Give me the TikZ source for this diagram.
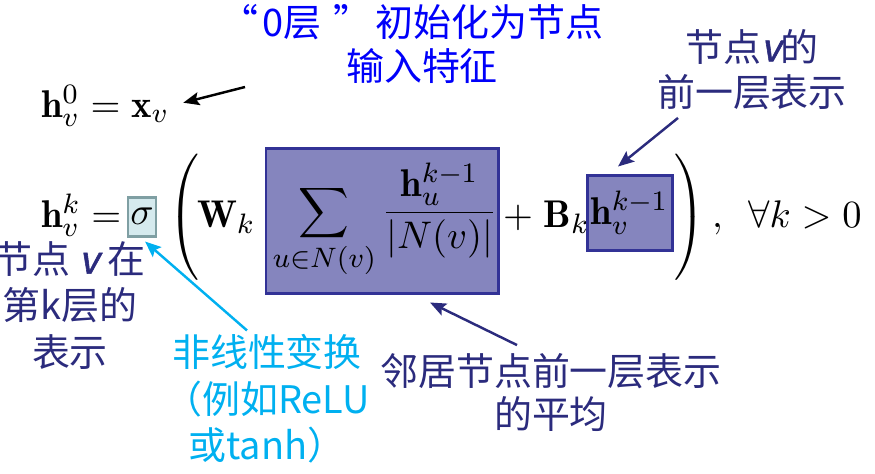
\documentclass[tikz,border=0pt]{standalone}
\usepackage{fontspec}
\newfontfamily\cjk{Noto Sans CJK SC}
\newfontfamily\cjkv[FakeSlant=0.2,FakeBold=1.5]{Noto Sans CJK SC}
\usetikzlibrary{arrows.meta}
\definecolor{titleblue}{RGB}{0,0,250}
\definecolor{navy}{RGB}{43,43,125}
\definecolor{sky}{RGB}{0,176,240}
\definecolor{aggfill}{RGB}{133,133,190}
\definecolor{aggline}{RGB}{50,50,150}
\definecolor{sigfill}{RGB}{213,234,238}
\definecolor{sigline}{RGB}{127,159,163}

\begin{document}
\begin{tikzpicture}[lbl/.style = {align=center, inner sep=0pt, font=\cjk\fontsize{10.8pt}{#1}\selectfont}, lbl/.default=12.3pt,
eq/.style = {anchor=base west, inner sep=0pt, font=\fontsize{11pt}{13pt}\selectfont},
agg/.style = {draw=aggline, fill=aggfill, line width=0.85pt, inner sep=0pt, font=\fontsize{11pt}{13pt}\selectfont},
sigbox/.style = {draw=sigline, fill=sigfill, line width=0.85pt, inner sep=0pt, minimum width=0.28cm, minimum height=0.39cm, font=\fontsize{11pt}{13pt}\selectfont},
->, >={Stealth[length=1.6mm, width=1.3mm, inset=0.3mm]}, line width=0.7pt]
\useasboundingbox (0,0) rectangle (8.75,-4.73);

\node[lbl, text=titleblue] (init) at (4.22,-0.44) {“\hspace{0.12em}0层\hspace{0.3em}”\hspace{0.12em}初始化为节点\hspace*{0.54em}\\输入特征};
\node[eq] (h0) at (0.40,-1.17) {$\mathbf{h}_v^0=\mathbf{x}_v$};
\coordinate (c0) at (2.45,-0.87);

\node[eq] (hk) at (0.40,-2.27) {$\mathbf{h}_v^k=$};
\node[sigbox] (sig) at (1.42,-2.165) {$\sigma$};
\node[eq] (lp) at (1.67,-2.27) {$\left(\vcenter{\hbox{\rule{0pt}{1.38cm}}}\right.$};
\node[eq] (wk) at (1.96,-2.27) {$\mathbf{W}_k$};
\node[agg, minimum width=2.32cm, minimum height=1.45cm] (nbr) at (3.82,-2.205) {\hspace{0.06cm}$\displaystyle\sum_{u\in N(v)}\frac{\mathbf{h}_u^{k-1}}{|N(v)|}$};
\node[eq] (bk) at (5.02,-2.27) {$+\;\mathbf{B}_k$};
\node[agg, minimum width=0.85cm, minimum height=0.75cm] (self) at (6.295,-2.125) {$\mathbf{h}_v^{k-1}$};
\node[eq] (rp) at (6.69,-2.27) {$\left.\vcenter{\hbox{\rule{0pt}{1.38cm}}}\right)$};
\node[eq] (cond) at (7.11,-2.27) {$,\ \,\forall k>0$};

\node[lbl=12.8pt, text=navy] (selflbl) at (7.52,-0.695) {节点{\cjkv v}的\\前一层表示};
\node[lbl=13.2pt, text=navy] (nodelbl) at (0.70,-3.055) {节点 {\cjkv v} 在\\第k层的\\表示};
\node[lbl=13.2pt, text=sky] (sigmalbl) at (2.67,-3.99) {非线性变换\\（例如ReLU\\或tanh）};
\node[lbl, text=navy] (nbrlbl) at (5.51,-3.925) {邻居节点前一层表示\\的平均};

\draw (c0) -- ([xshift=0.13cm,yshift=0.03cm]h0.east);
\draw[navy] ([xshift=-0.74cm,yshift=-0.07cm]selflbl.south) -- ([xshift=-0.115cm,yshift=0.07cm]self.north);
\draw[sky] ([xshift=-0.2cm,yshift=0.03cm]sigmalbl.north) -- ([xshift=0.03cm,yshift=-0.04cm]sig.south);
\draw[navy] ([xshift=-0.34cm,yshift=0.07cm]nbrlbl.north) -- ([xshift=0.48cm,yshift=-0.08cm]nbr.south);
\end{tikzpicture}
\end{document}
